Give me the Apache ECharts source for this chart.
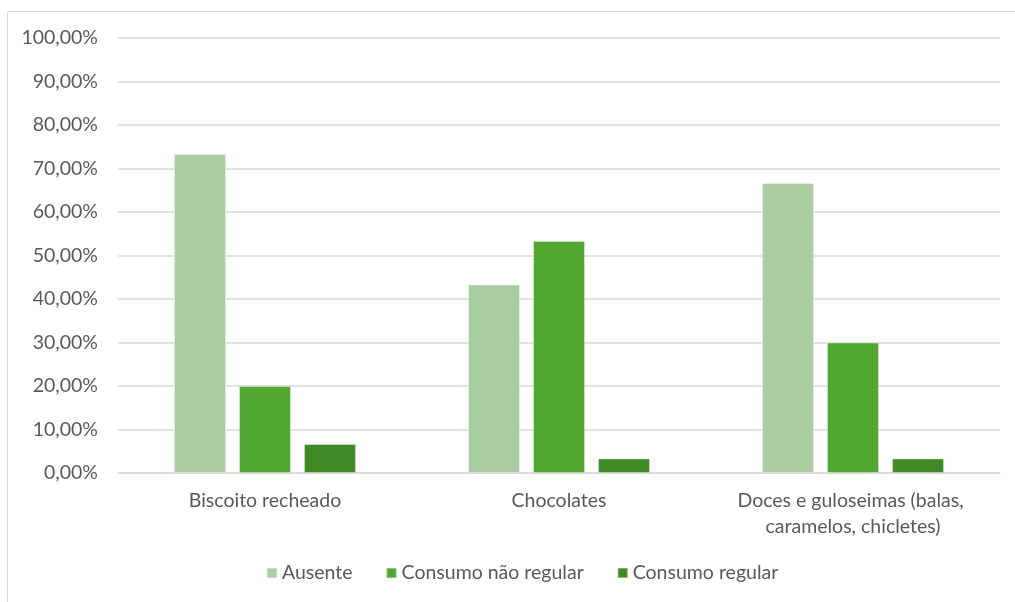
<!DOCTYPE html>
<html>
<head>
<meta charset="utf-8">
<script src="https://cdn.jsdelivr.net/npm/echarts@6/dist/echarts.min.js"></script>
<style>
  html, body { margin: 0; padding: 0; background: #fff; }
  #chart { width: 1015px; height: 602px; }
</style>
</head>
<body>
<div id="chart"></div>
<script>
// Food consumption shares per category
const categories = ['Biscoito recheado', 'Chocolates', 'Doces e guloseimas (balas, caramelos, chicletes)'];
const seriesNames = ['Ausente', 'Consumo não regular', 'Consumo regular'];
const ausente = [73.33, 43.33, 66.67];
const naoRegular = [20.00, 53.33, 30.00];
const regular = [6.67, 3.33, 3.33];
const yTicks = { min: 0, max: 100, interval: 10 };

const colors = ['#A9CCA0', '#52A632', '#3F8A27'];
const textColor = '#595959';
const fontFamily = 'Lato, "Open Sans", sans-serif';
const fontSize = 19.5;

const chart = echarts.init(document.getElementById('chart'));

function barSeries(name, data, color) {
  return {
    name: name,
    type: 'bar',
    data: data,
    barWidth: 52,
    barGap: '25%',
    itemStyle: { color: color, borderColor: 'rgba(255,255,255,0.35)', borderWidth: 1 },
    emphasis: { disabled: true }
  };
}

chart.setOption({
  animation: false,
  textStyle: { fontFamily: fontFamily },
  graphic: [{
    type: 'rect',
    shape: { x: 7.5, y: 11.5, width: 1010, height: 600 },
    style: { fill: 'none', stroke: '#d9d9d9', lineWidth: 1 },
    silent: true
  }],
  grid: { left: 118, right: 15, top: 38, bottom: 129 },
  legend: {
    data: seriesNames,
    top: 558,
    left: 261,
    itemWidth: 10,
    itemHeight: 10,
    itemGap: 33,
    icon: 'rect',
    textStyle: { color: textColor, fontSize: fontSize, fontFamily: fontFamily }
  },
  xAxis: {
    type: 'category',
    data: categories,
    axisLine: { lineStyle: { color: '#d9d9d9', width: 1.5 } },
    axisTick: { show: false },
    axisLabel: {
      color: textColor,
      fontSize: fontSize,
      margin: 15,
      lineHeight: 26,
      width: 245,
      overflow: 'break',
      interval: 0
    }
  },
  yAxis: {
    type: 'value',
    min: yTicks.min,
    max: yTicks.max,
    interval: yTicks.interval,
    axisLine: { show: false },
    axisTick: { show: false },
    splitLine: { lineStyle: { color: '#d9d9d9', width: 1.5 } },
    axisLabel: {
      color: textColor,
      fontSize: fontSize,
      margin: 20,
      formatter: v => v.toFixed(2).replace('.', ',') + '%'
    }
  },
  series: [
    barSeries(seriesNames[0], ausente, colors[0]),
    barSeries(seriesNames[1], naoRegular, colors[1]),
    barSeries(seriesNames[2], regular, colors[2])
  ]
});
</script>
</body>
</html>
